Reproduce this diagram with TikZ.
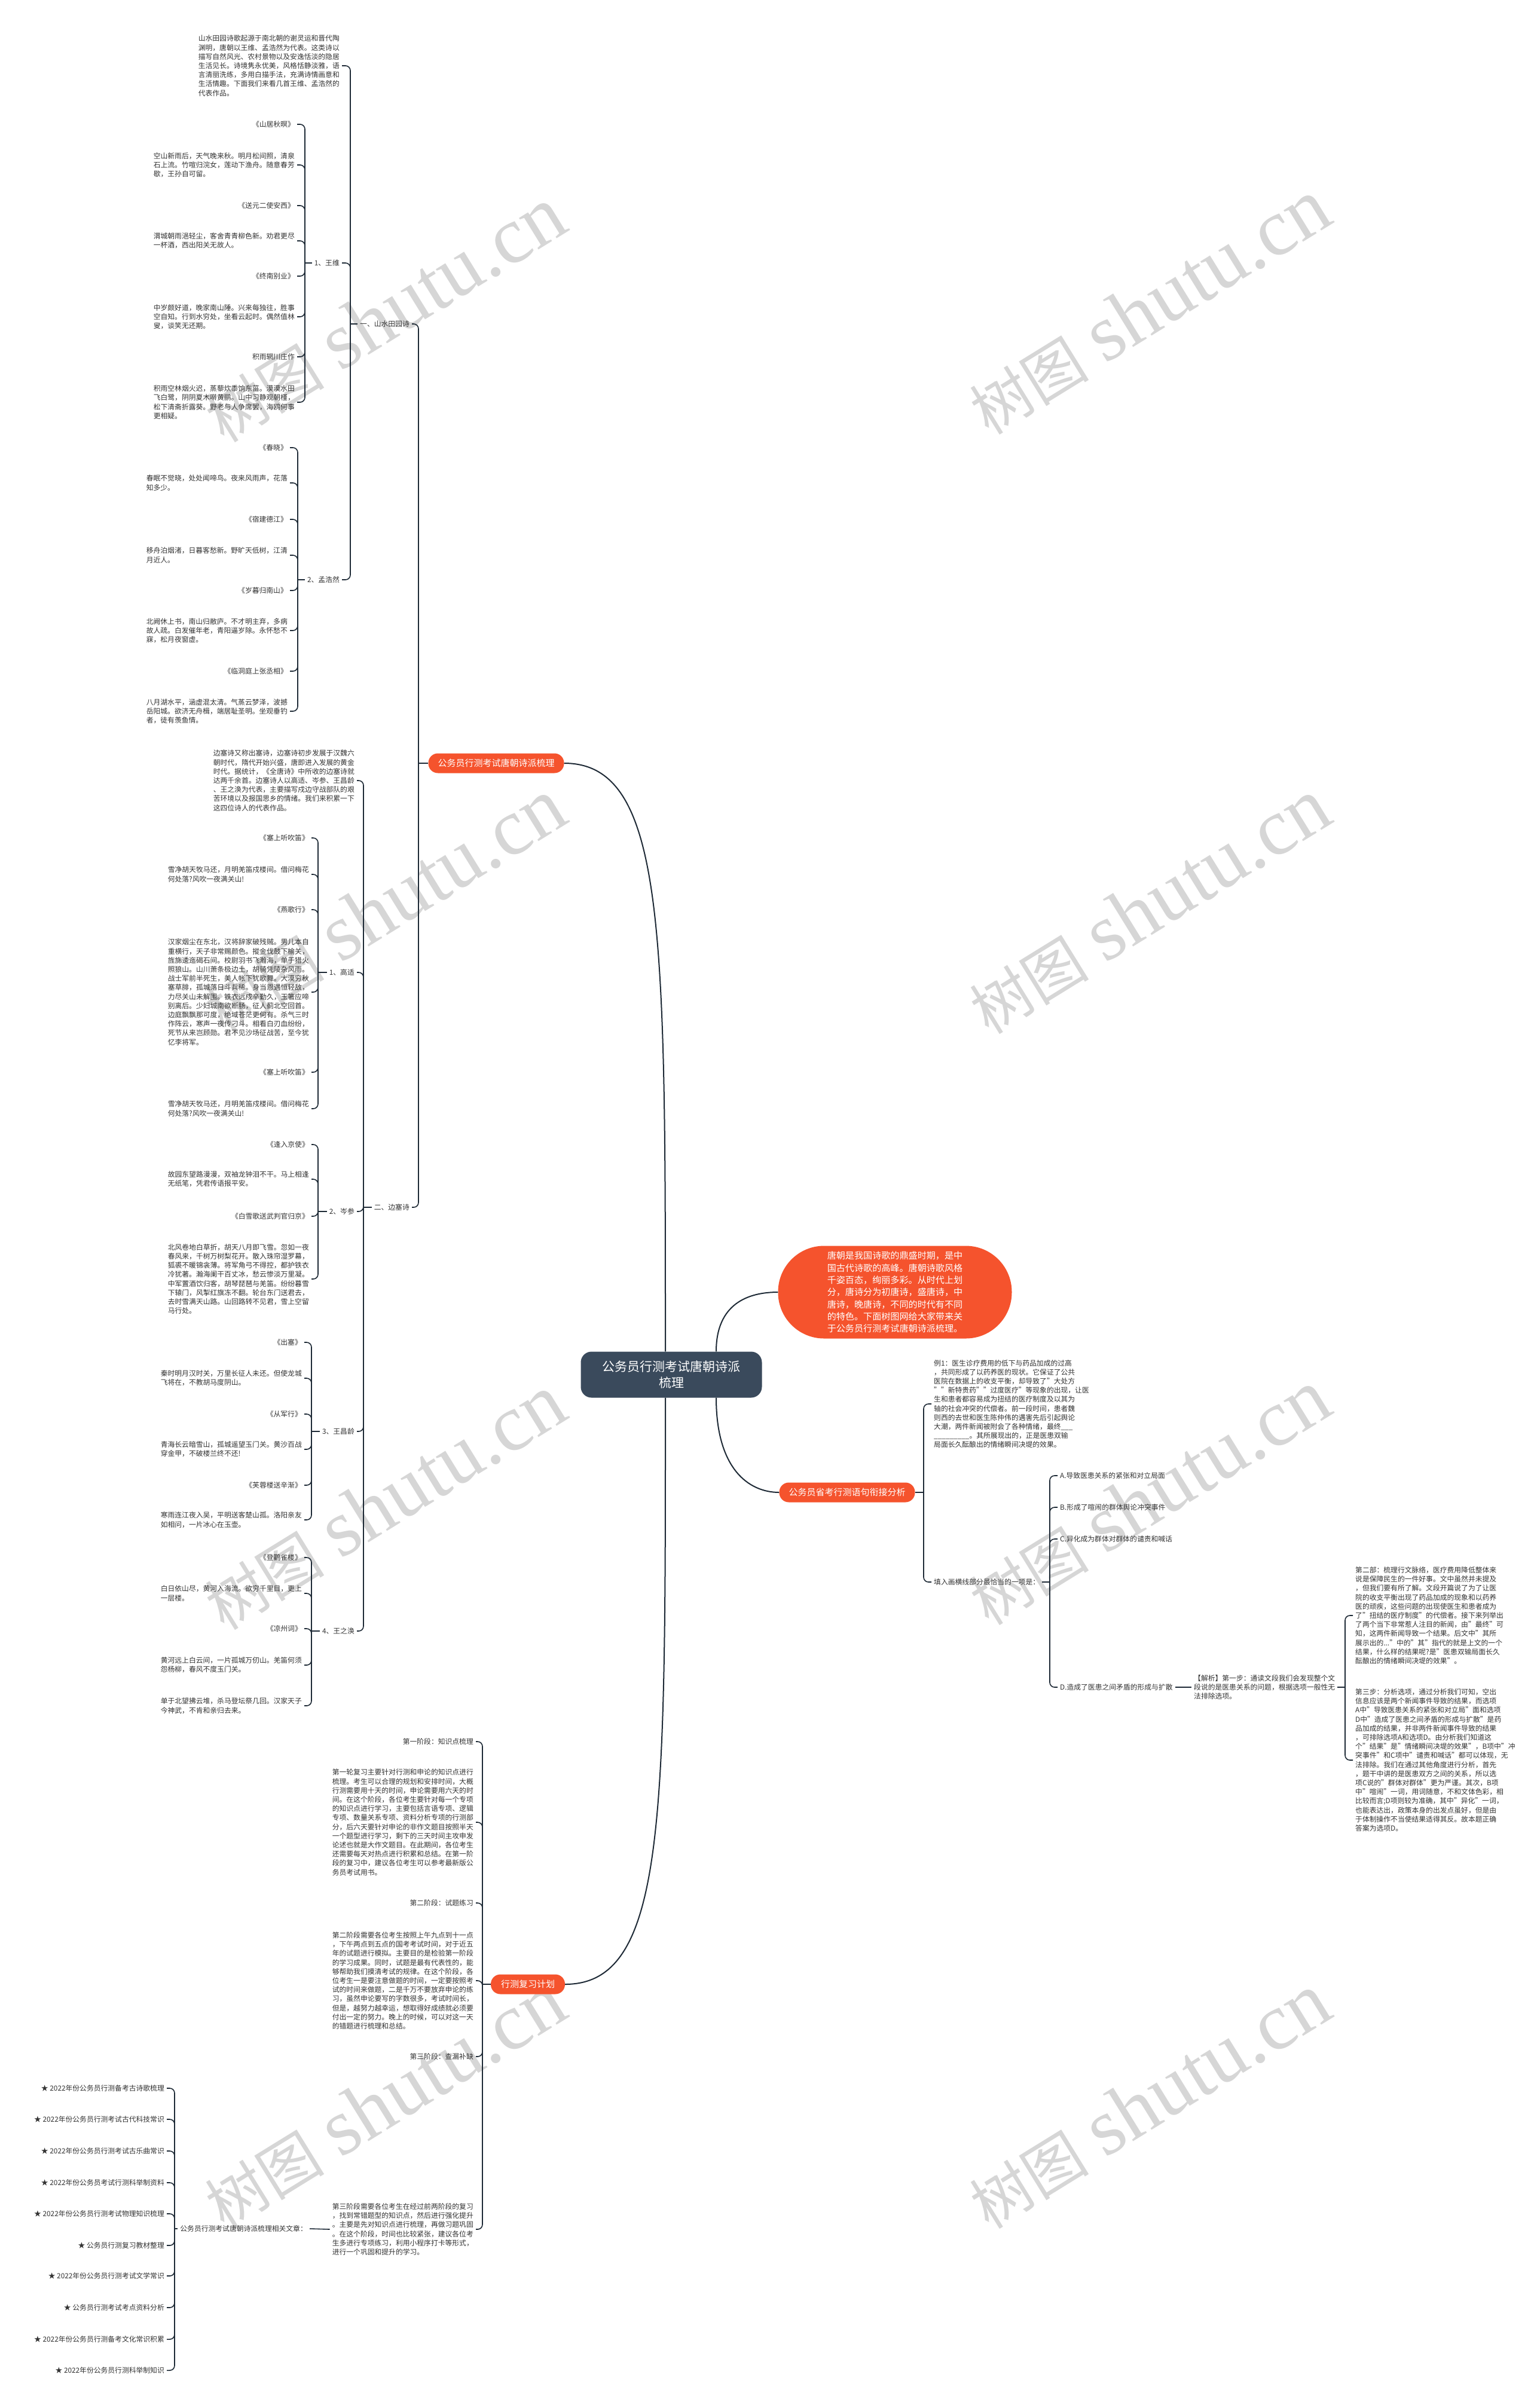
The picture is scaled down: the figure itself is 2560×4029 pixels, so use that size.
\documentclass[tikz,border=0pt]{standalone}
\usepackage{fontspec}
\setmainfont{Noto Sans CJK SC}
\newfontfamily\wmserif{Liberation Serif}
\definecolor{oc}{HTML}{F5532D}
\definecolor{cc}{HTML}{3A4A5C}
\definecolor{lc}{HTML}{1E2A36}
\definecolor{tc}{HTML}{333333}
\definecolor{wm}{HTML}{D6D6D6}
\tikzset{
  conn/.style={line width=1.6pt, draw=lc, rounded corners=8pt},
  curvy/.style={line width=2pt, draw=lc},
  txt/.style={font=\fontsize{11.8}{15.2}\selectfont, text=tc, align=left, inner ysep=0pt, inner xsep=4pt},
  branch/.style={fill=oc, text=white, rounded corners=16pt, font=\fontsize{15}{18}\selectfont, inner xsep=16pt, inner ysep=0pt, minimum height=33pt},
  wmark/.style={rotate=31.7, text=wm, inner sep=0pt},
}
\newcommand{\kidsL}[3]{%
  \draw[conn] (#1.west) -- (#1.west -| #2);
  \foreach \k in {#3}{\draw[conn] (#1.west -| #2) |- (\k.east);}%
}
\newcommand{\kidsR}[3]{%
  \draw[conn] (#1.east) -- (#1.east -| #2);
  \foreach \k in {#3}{\draw[conn] (#1.east -| #2) |- (\k.west);}%
}
\begin{document}
\begin{tikzpicture}[x=1pt,y=-1pt]
\fill[white] (0,0) rectangle (2560,4029);
\useasboundingbox (0,0) rectangle (2560,4029);

% watermarks
\foreach \p in {(643,527),(1922,514),(643,1517),(1922,1517),(643,2514),(1922,2506),(643,3516),(1922,3516)}{
  \node[wmark] at \p {\fontsize{100}{100}\selectfont 树图\hspace{28pt}{\wmserif\fontsize{135}{135}\selectfont shutu.cn}};
}

% spine coordinates
\coordinate (sb1) at (700,0);
\coordinate (syi) at (586,0);
\coordinate (sww) at (510,0);
\coordinate (smh) at (498,0);
\coordinate (ser) at (608,0);
\coordinate (sgs) at (532,0);
\coordinate (scs) at (532,0);
\coordinate (swc) at (521,0);
\coordinate (swz) at (521,0);
\coordinate (sb2) at (1545,0);
\coordinate (sfl) at (1756,0);
\coordinate (sjx) at (2250,0);
\coordinate (sb3) at (807,0);
\coordinate (srel) at (292,0);

% central and main nodes
\node[fill=cc, text=white, rounded corners=18pt, minimum width=303pt, minimum height=77pt, align=center, font=\fontsize{21}{27}\selectfont] (c) at (1123,2300) {公务员行测考试唐朝诗派\\梳理};
\node[fill=oc, text=white, rounded corners=77pt, minimum width=391pt, minimum height=155pt, align=left, font=\fontsize{15.1}{20.3}\selectfont] (bub) at (1497,2162) {唐朝是我国诗歌的鼎盛时期，是中\\国古代诗歌的高峰。唐朝诗歌风格\\千姿百态，绚丽多彩。从时代上划\\分，唐诗分为初唐诗，盛唐诗，中\\唐诗，晚唐诗，不同的时代有不同\\的特色。下面树图网给大家带来关\\于公务员行测考试唐朝诗派梳理。};
\node[branch] (b1) at (830,1277) {公务员行测考试唐朝诗派梳理};
\node[branch] (b2) at (1417,2497) {公务员省考行测语句衔接分析};
\node[branch, inner xsep=17pt] (b3) at (883,3320) {行测复习计划};

\draw[curvy] ([xshift=-10pt]c.north) .. controls +(0,-700) and +(170,0) .. (b1.east);
\draw[curvy] ([xshift=-10pt]c.south) .. controls +(0,700) and +(170,0) .. (b3.east);
\draw[curvy] ([xshift=75pt]c.north) .. controls +(0,-80) and +(-50,0) .. (bub.west);
\draw[curvy] ([xshift=75pt]c.south) .. controls +(0,120) and +(-50,0) .. (b2.west);

% ===== branch 1 =====
\node[txt,anchor=east] (yi) at (689,542) {一、山水田园诗};
\node[txt,anchor=east] (er) at (689,2020) {二、边塞诗};
\kidsL{b1}{sb1}{yi,er}

\node[txt,anchor=east] (yiI) at (572,110) {山水田园诗歌起源于南北朝的谢灵运和晋代陶\\渊明，唐朝以王维、孟浩然为代表。这类诗以\\描写自然风光、农村景物以及安逸恬淡的隐居\\生活见长。诗境隽永优美，风格恬静淡雅，语\\言清丽洗练，多用白描手法，充满诗情画意和\\生活情趣。下面我们来看几首王维、孟浩然的\\代表作品。};
\node[txt,anchor=east] (ww) at (572,440) {1、王维};
\node[txt,anchor=east] (mh) at (572,970) {2、孟浩然};
\kidsL{yi}{syi}{yiI,ww,mh}

\node[txt,anchor=east] (ww1) at (497,208) {《山居秋暝》};
\node[txt,anchor=east] (ww2) at (497,276) {空山新雨后，天气晚来秋。明月松间照，清泉\\石上流。竹喧归浣女，莲动下渔舟。随意春芳\\歇，王孙自可留。};
\node[txt,anchor=east] (ww3) at (497,344) {《送元二使安西》};
\node[txt,anchor=east] (ww4) at (497,403) {渭城朝雨浥轻尘，客舍青青柳色新。劝君更尽\\一杯酒，西出阳关无故人。};
\node[txt,anchor=east] (ww5) at (497,462) {《终南别业》};
\node[txt,anchor=east] (ww6) at (497,530) {中岁颇好道，晚家南山陲。兴来每独往，胜事\\空自知。行到水穷处，坐看云起时。偶然值林\\叟，谈笑无还期。};
\node[txt,anchor=east] (ww7) at (497,597) {积雨辋川庄作};
\node[txt,anchor=east] (ww8) at (497,673) {积雨空林烟火迟，蒸藜炊黍饷东菑。漠漠水田\\飞白鹭，阴阴夏木啭黄鹂。山中习静观朝槿，\\松下清斋折露葵。野老与人争席罢，海鸥何事\\更相疑。};
\kidsL{ww}{sww}{ww1,ww2,ww3,ww4,ww5,ww6,ww7,ww8}

\node[txt,anchor=east] (mh1) at (485,749) {《春晓》};
\node[txt,anchor=east] (mh2) at (485,808) {春眠不觉晓，处处闻啼鸟。夜来风雨声，花落\\知多少。};
\node[txt,anchor=east] (mh3) at (485,869) {《宿建德江》};
\node[txt,anchor=east] (mh4) at (485,929) {移舟泊烟渚，日暮客愁新。野旷天低树，江清\\月近人。};
\node[txt,anchor=east] (mh5) at (485,988) {《岁暮归南山》};
\node[txt,anchor=east] (mh6) at (485,1055) {北阙休上书，南山归敝庐。不才明主弃，多病\\故人疏。白发催年老，青阳逼岁除。永怀愁不\\寐，松月夜窗虚。};
\node[txt,anchor=east] (mh7) at (485,1123) {《临洞庭上张丞相》};
\node[txt,anchor=east] (mh8) at (485,1190) {八月湖水平，涵虚混太清。气蒸云梦泽，波撼\\岳阳城。欲济无舟楫，端居耻圣明。坐观垂钓\\者，徒有羡鱼情。};
\kidsL{mh}{smh}{mh1,mh2,mh3,mh4,mh5,mh6,mh7,mh8}

\node[txt,anchor=east] (erI) at (597,1306) {边塞诗又称出塞诗，边塞诗初步发展于汉魏六\\朝时代，隋代开始兴盛，唐即进入发展的黄金\\时代。据统计，《全唐诗》中所收的边塞诗就\\达两千余首。边塞诗人以高适、岑参、王昌龄\\、王之涣为代表，主要描写戍边守战部队的艰\\苦环境以及报国思乡的情绪。我们来积累一下\\这四位诗人的代表作品。};
\node[txt,anchor=east] (gs) at (597,1627) {1、高适};
\node[txt,anchor=east] (cs) at (597,2027) {2、岑参};
\node[txt,anchor=east] (wc) at (597,2395) {3、王昌龄};
\node[txt,anchor=east] (wz) at (597,2729) {4、王之涣};
\kidsL{er}{ser}{erI,gs,cs,wc,wz}

\node[txt,anchor=east] (gs1) at (521,1402) {《塞上听吹笛》};
\node[txt,anchor=east] (gs2) at (521,1463) {雪净胡天牧马还，月明羌笛戍楼间。借问梅花\\何处落?风吹一夜满关山!};
\node[txt,anchor=east] (gs3) at (521,1522) {《燕歌行》};
\node[txt,anchor=east] (gs4) at (521,1660) {汉家烟尘在东北，汉将辞家破残贼。男儿本自\\重横行，天子非常赐颜色。摐金伐鼓下榆关，\\旌旆逶迤碣石间。校尉羽书飞瀚海，单于猎火\\照狼山。山川萧条极边土，胡骑凭陵杂风雨。\\战士军前半死生，美人帐下犹歌舞。大漠穷秋\\塞草腓，孤城落日斗兵稀。身当恩遇恒轻敌，\\力尽关山未解围。铁衣远戍辛勤久，玉箸应啼\\别离后。少妇城南欲断肠，征人蓟北空回首。\\边庭飘飘那可度，绝域苍茫更何有。杀气三时\\作阵云，寒声一夜传刁斗。相看白刃血纷纷，\\死节从来岂顾勋。君不见沙场征战苦，至今犹\\忆李将军。};
\node[txt,anchor=east] (gs5) at (521,1794) {《塞上听吹笛》};
\node[txt,anchor=east] (gs6) at (521,1855) {雪净胡天牧马还，月明羌笛戍楼间。借问梅花\\何处落?风吹一夜满关山!};
\kidsL{gs}{sgs}{gs1,gs2,gs3,gs4,gs5,gs6}

\node[txt,anchor=east] (cs1) at (521,1915) {《逢入京使》};
\node[txt,anchor=east] (cs2) at (521,1973) {故园东望路漫漫，双袖龙钟泪不干。马上相逢\\无纸笔，凭君传语报平安。};
\node[txt,anchor=east] (cs3) at (521,2035) {《白雪歌送武判官归京》};
\node[txt,anchor=east] (cs4) at (521,2140) {北风卷地白草折，胡天八月即飞雪。忽如一夜\\春风来，千树万树梨花开。散入珠帘湿罗幕，\\狐裘不暖锦衾薄。将军角弓不得控，都护铁衣\\冷犹著。瀚海阑干百丈冰，愁云惨淡万里凝。\\中军置酒饮归客，胡琴琵琶与羌笛。纷纷暮雪\\下辕门，风掣红旗冻不翻。轮台东门送君去，\\去时雪满天山路。山回路转不见君，雪上空留\\马行处。};
\kidsL{cs}{scs}{cs1,cs2,cs3,cs4}

\node[txt,anchor=east] (wc1) at (509,2246) {《出塞》};
\node[txt,anchor=east] (wc2) at (509,2306) {秦时明月汉时关，万里长征人未还。但使龙城\\飞将在，不教胡马度阴山。};
\node[txt,anchor=east] (wc3) at (509,2366) {《从军行》};
\node[txt,anchor=east] (wc4) at (509,2425) {青海长云暗雪山，孤城遥望玉门关。黄沙百战\\穿金甲，不破楼兰终不还!};
\node[txt,anchor=east] (wc5) at (509,2485) {《芙蓉楼送辛渐》};
\node[txt,anchor=east] (wc6) at (509,2543) {寒雨连江夜入吴，平明送客楚山孤。洛阳亲友\\如相问，一片冰心在玉壶。};
\kidsL{wc}{swc}{wc1,wc2,wc3,wc4,wc5,wc6}

\node[txt,anchor=east] (wz1) at (509,2606) {《登鹳雀楼》};
\node[txt,anchor=east] (wz2) at (509,2666) {白日依山尽，黄河入海流。欲穷千里目，更上\\一层楼。};
\node[txt,anchor=east] (wz3) at (509,2725) {《凉州词》};
\node[txt,anchor=east] (wz4) at (509,2786) {黄河远上白云间，一片孤城万仞山。羌笛何须\\怨杨柳，春风不度玉门关。};
\node[txt,anchor=east] (wz5) at (509,2854) {单于北望拂云堆，杀马登坛祭几回。汉家天子\\今神武，不肯和亲归去来。};
\kidsL{wz}{swz}{wz1,wz2,wz3,wz4,wz5}

% ===== branch 2 =====
\node[txt,anchor=west] (ex) at (1558,2349) {例1：医生诊疗费用的低下与药品加成的过高\\，共同形成了以药养医的现状。它保证了公共\\医院在数据上的收支平衡，却导致了"大处方\\""新特贵药""过度医疗"等现象的出现，让医\\生和患者都容易成为扭结的医疗制度及以其为\\轴的社会冲突的代偿者。前一段时间，患者魏\\则西的去世和医生陈仲伟的遇害先后引起舆论\\大潮，两件新闻被附会了各种情绪，最终\_\_\_\\\_\_\_\_\_\_\_\_\_。其所展现出的，正是医患双输\\局面长久酝酿出的情绪瞬间决堤的效果。};
\node[txt,anchor=west] (fl) at (1558,2647) {填入画横线部分最恰当的一项是：};
\kidsR{b2}{sb2}{ex,fl}

\node[txt,anchor=west] (fA) at (1769,2469) {A.导致医患关系的紧张和对立局面};
\node[txt,anchor=west] (fB) at (1769,2522) {B.形成了喧闹的群体舆论冲突事件};
\node[txt,anchor=west] (fC) at (1769,2575) {C.异化成为群体对群体的谴责和喊话};
\node[txt,anchor=west] (fD) at (1769,2823) {D.造成了医患之间矛盾的形成与扩散};
\kidsR{fl}{sfl}{fA,fB,fC,fD}

\node[txt,anchor=west] (jx) at (1993,2823) {【解析】第一步：通读文段我们会发现整个文\\段说的是医患关系的问题，根据选项一般性无\\法排除选项。};
\draw[conn] (fD.east) -- (jx.west);

\node[txt,anchor=west] (p2) at (2263,2703) {第二部：梳理行文脉络，医疗费用降低整体来\\说是保障民生的一件好事。文中虽然并未提及\\，但我们要有所了解。文段开篇说了为了让医\\院的收支平衡出现了药品加成的现象和以药养\\医的顽疾，这些问题的出现使医生和患者成为\\了"扭结的医疗制度"的代偿者。接下来列举出\\了两个当下非常惹人注目的新闻，由"最终"可\\知，这两件新闻导致一个结果。后文中"其所\\展示出的..."中的"其"指代的就是上文的一个\\结果，什么样的结果呢?是"医患双输局面长久\\酝酿出的情绪瞬间决堤的效果"。};
\node[txt,anchor=west] (p3) at (2263,2945) {第三步：分析选项，通过分析我们可知，空出\\信息应该是两个新闻事件导致的结果，而选项\\A中"导致医患关系的紧张和对立局"面和选项\\D中"造成了医患之间矛盾的形成与扩散"是药\\品加成的结果，并非两件新闻事件导致的结果\\，可排除选项A和选项D。由分析我们知道这\\个"结果"是"情绪瞬间决堤的效果"，B项中"冲\\突事件"和C项中"谴责和喊话"都可以体现，无\\法排除。我们在通过其他角度进行分析，首先\\，题干中讲的是医患双方之间的关系，所以选\\项C说的"群体对群体"更为严谨。其次，B项\\中"喧闹"一词，用词随意，不和文体色彩，相\\比较而言;D项则较为准确，其中"异化"一词，\\也能表达出，政策本身的出发点虽好，但是由\\于体制操作不当使结果适得其反。故本题正确\\答案为选项D。};
\kidsR{jx}{sjx}{p2,p3}

% ===== branch 3 =====
\node[txt,anchor=east] (st1) at (796,2914) {第一阶段：知识点梳理};
\node[txt,anchor=east] (bl1) at (796,3049) {第一轮复习主要针对行测和申论的知识点进行\\梳理。考生可以合理的规划和安排时间，大概\\行测需要用十天的时间，申论需要用六天的时\\间。在这个阶段，各位考生要针对每一个专项\\的知识点进行学习，主要包括言语专项、逻辑\\专项、数量关系专项、资料分析专项的行测部\\分，后六天要针对申论的非作文题目按照半天\\一个题型进行学习，剩下的三天时间主攻申发\\论述也就是大作文题目。在此期间，各位考生\\还需要每天对热点进行积累和总结。在第一阶\\段的复习中，建议各位考生可以参考最新版公\\务员考试用书。};
\node[txt,anchor=east] (st2) at (796,3184) {第二阶段：试题练习};
\node[txt,anchor=east] (bl2) at (796,3314) {第二阶段需要各位考生按照上午九点到十一点\\，下午两点到五点的国考考试时间，对于近五\\年的试题进行模拟。主要目的是检验第一阶段\\的学习成果。同时，试题是最有代表性的，能\\够帮助我们摸清考试的规律。在这个阶段，各\\位考生一是要注意做题的时间，一定要按照考\\试的时间来做题，二是千万不要放弃申论的练\\习，虽然申论要写的字数很多，考试时间长，\\但是，越努力越幸运，想取得好成绩就必须要\\付出一定的努力。晚上的时候，可以对这一天\\的错题进行梳理和总结。};
\node[txt,anchor=east] (st3) at (796,3441) {第三阶段：查漏补缺};
\node[txt,anchor=east] (bl3) at (796,3730) {第三阶段需要各位考生在经过前两阶段的复习\\，找到常错题型的知识点，然后进行强化提升\\。主要是先对知识点进行梳理，再做习题巩固\\。在这个阶段，时间也比较紧张，建议各位考\\生多进行专项练习，利用小程序打卡等形式，\\进行一个巩固和提升的学习。};
\kidsL{b3}{sb3}{st1,bl1,st2,bl2,st3,bl3}

\node[txt,anchor=east] (rel) at (518,3729) {公务员行测考试唐朝诗派梳理相关文章：};
\draw[conn] (bl3.west) -- (rel.east);

\node[txt,anchor=east] (r1) at (279,3494) {★ 2022年份公务员行测备考古诗歌梳理};
\node[txt,anchor=east] (r2) at (279,3546) {★ 2022年份公务员行测考试古代科技常识};
\node[txt,anchor=east] (r3) at (279,3599) {★ 2022年份公务员行测考试古乐曲常识};
\node[txt,anchor=east] (r4) at (279,3652) {★ 2022年份公务员考试行测科举制资料};
\node[txt,anchor=east] (r5) at (279,3704) {★ 2022年份公务员行测考试物理知识梳理};
\node[txt,anchor=east] (r6) at (279,3757) {★ 公务员行测复习教材整理};
\node[txt,anchor=east] (r7) at (279,3808) {★ 2022年份公务员行测考试文学常识};
\node[txt,anchor=east] (r8) at (279,3861) {★ 公务员行测考试考点资料分析};
\node[txt,anchor=east] (r9) at (279,3914) {★ 2022年份公务员行测备考文化常识积累};
\node[txt,anchor=east] (r10) at (279,3966) {★ 2022年份公务员行测科举制知识};
\kidsL{rel}{srel}{r1,r2,r3,r4,r5,r6,r7,r8,r9,r10}
\end{tikzpicture}
\end{document}
